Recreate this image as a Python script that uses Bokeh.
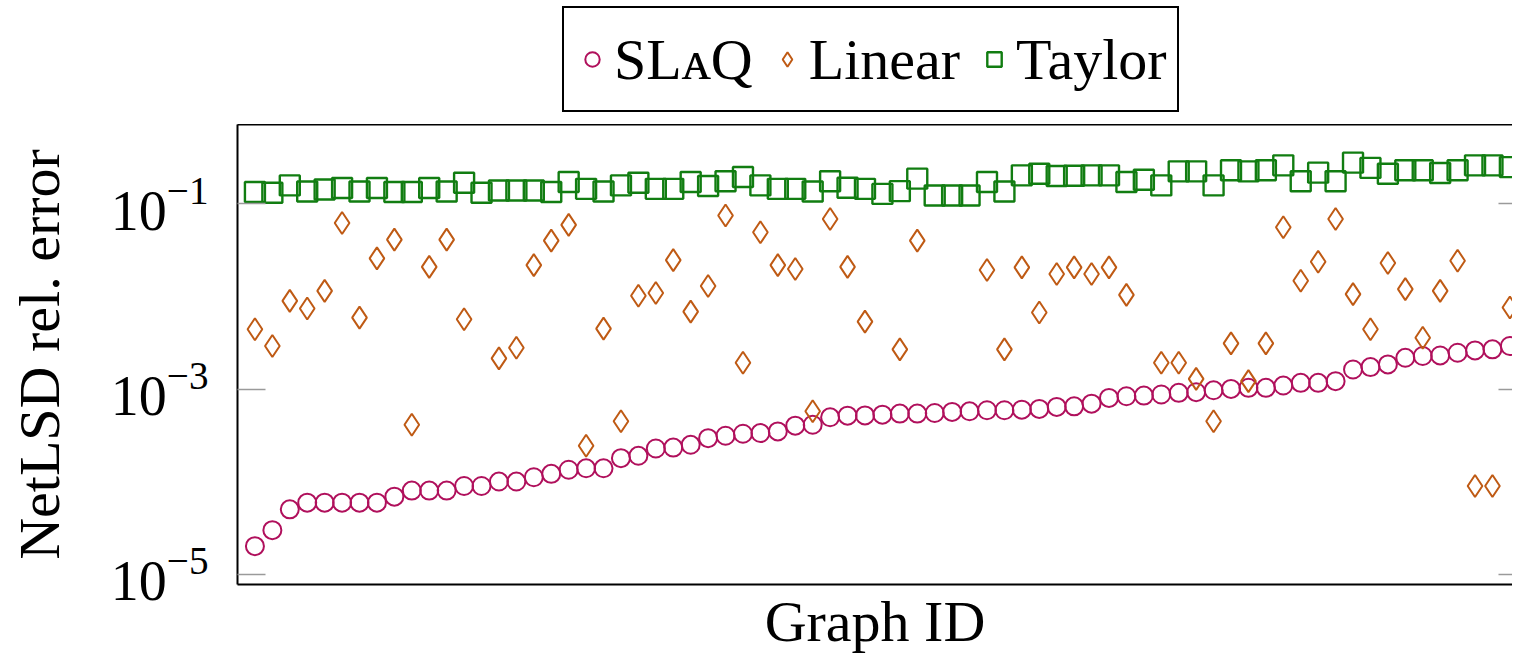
import numpy as np
from bokeh.plotting import figure
from bokeh.layouts import column
from bokeh.models import (Range1d, FixedTicker, LogAxis, LinearAxis, Legend, LegendItem)
from bokeh.embed import file_html
from bokeh.resources import INLINE

graph_ids = list(range(1, 74))

slaq = [2.02e-5, 3.01e-5, 5.05e-5, 5.96e-5, 5.96e-5, 5.96e-5, 5.96e-5, 5.96e-5,
        6.92e-5, 8.04e-5, 8.04e-5, 8.04e-5, 9.02e-5, 9.02e-5, 1.007e-4, 1.007e-4,
        1.12e-4, 1.22e-4, 1.35e-4, 1.40e-4, 1.40e-4, 1.80e-4, 1.91e-4, 2.29e-4,
        2.34e-4, 2.51e-4, 2.96e-4, 3.14e-4, 3.30e-4, 3.36e-4, 3.50e-4, 4.04e-4,
        4.13e-4, 4.97e-4, 5.18e-4, 5.21e-4, 5.31e-4, 5.45e-4, 5.45e-4, 5.53e-4,
        5.68e-4, 5.77e-4, 5.92e-4, 5.92e-4, 6.01e-4, 6.12e-4, 6.43e-4, 6.53e-4,
        6.98e-4, 8.04e-4, 8.38e-4, 8.53e-4, 8.75e-4, 9.12e-4, 9.27e-4, 9.72e-4,
        1.007e-3, 1.033e-3, 1.033e-3, 1.094e-3, 1.17e-3, 1.17e-3, 1.22e-3, 1.63e-3,
        1.73e-3, 1.85e-3, 2.18e-3, 2.28e-3, 2.31e-3, 2.47e-3, 2.62e-3, 2.69e-3,
        2.92e-3]

nan = float("nan")
linear = [4.43e-3, 2.92e-3, 8.97e-3, 7.41e-3, 1.15e-2, 6.22e-2, 5.92e-3, 2.58e-2,
          4.11e-2, 4.13e-4, 2.09e-2, 4.11e-2, 5.68e-3, nan, 2.15e-3, 2.80e-3,
          2.18e-2, 4.01e-2, 5.92e-2, 2.45e-4, 4.50e-3, 4.50e-4, 1.02e-2, 1.09e-2,
          2.47e-2, 6.87e-3, 1.30e-2, 7.48e-2, 1.93e-3, 4.93e-2, 2.18e-2, 1.98e-2,
          5.77e-4, 6.87e-2, 2.09e-2, 5.36e-3, nan, 2.69e-3, 4.01e-2, nan,
          nan, nan, 1.93e-2, 2.69e-3, 2.06e-2, 6.71e-3, 1.75e-2, 2.06e-2,
          1.75e-2, 2.06e-2, 1.04e-2, nan, 1.93e-3, 1.93e-3, 1.29e-3, 4.50e-4,
          3.12e-3, 1.22e-3, 3.12e-3, 5.58e-2, 1.48e-2, 2.37e-2, 6.87e-2, 1.06e-2,
          4.43e-3, 2.30e-2, 1.20e-2, 3.59e-3, 1.15e-2, 2.43e-2, 9.02e-5, 9.02e-5,
          7.60e-3]

taylor = [0.134, 0.1315, 0.158, 0.136, 0.143, 0.148, 0.136, 0.148,
          0.134, 0.134, 0.148, 0.136, 0.169, 0.1315, 0.139, 0.139,
          0.139, 0.134, 0.172, 0.145, 0.136, 0.158, 0.169, 0.145,
          0.145, 0.172, 0.156, 0.175, 0.195, 0.158, 0.145, 0.145,
          0.136, 0.175, 0.149, 0.145, 0.128, 0.137, 0.187, 0.123,
          0.123, 0.123, 0.172, 0.136, 0.203, 0.211, 0.200, 0.201,
          0.203, 0.203, 0.172, 0.182, 0.158, 0.224, 0.224, 0.158,
          0.230, 0.224, 0.230, 0.260, 0.175, 0.217, 0.175, 0.278,
          0.244, 0.211, 0.230, 0.230, 0.215, 0.230, 0.260, 0.260,
          0.249]

series_labels = ["SLᴀQ", "Linear", "Taylor"]
y_ticks = [1e-5, 1e-3, 1e-1]

FONT = "Liberation Serif"
C_SLAQ = "#b0105c"
C_LIN = "#bf5a14"
C_TAY = "#117d11"
STYLES = [dict(marker="circle", size=18, line_color=C_SLAQ, line_width=2),
          dict(marker="diamond", size=22, line_color=C_LIN, line_width=2),
          dict(marker="square", size=20, line_color=C_TAY, line_width=2.4)]
SERIES = [slaq, linear, taylor]

TOP_H = 124
LEFT = 237

# ---------------- main plot ----------------
p = figure(width=1512, height=658 - TOP_H, output_backend="svg", toolbar_location=None,
           y_axis_type="log",
           x_range=Range1d(0, 73.15), y_range=Range1d(10 ** -5.108, 10 ** -0.144),
           min_border_left=LEFT, min_border_right=0, min_border_top=0,
           min_border_bottom=74)
p.background_fill_color = "white"
p.border_fill_color = "white"
p.outline_line_color = None
p.xgrid.visible = False
p.ygrid.visible = False

for ys, st in zip(SERIES, STYLES):
    p.scatter(graph_ids, ys, fill_color=None, **st)

# y axis (left)
ya = p.left[0]
ya.ticker = FixedTicker(ticks=y_ticks, minor_ticks=[])
ya.axis_line_color = "black"
ya.axis_line_width = 2
ya.major_tick_in = 28
ya.major_tick_out = 0
ya.major_tick_line_color = "#9a9a9a"
ya.major_tick_line_width = 1.5
ya.minor_tick_line_color = None
ya.major_label_standoff = 29
ya.major_label_text_font = FONT
ya.major_label_text_font_size = "56px"
ya.major_label_text_color = "black"
ya.axis_label = "NetLSD rel. error"
ya.axis_label_text_font = FONT
ya.axis_label_text_font_size = "58px"
ya.axis_label_text_font_style = "normal"
ya.axis_label_text_color = "black"
ya.axis_label_standoff = 36

# x axis (below)
xa = p.below[0]
xa.ticker = FixedTicker(ticks=[])
xa.axis_line_color = "black"
xa.axis_line_width = 2
xa.major_tick_line_color = None
xa.minor_tick_line_color = None
xa.major_label_text_font_size = "1px"
xa.major_label_standoff = 0
xa.axis_label = "Graph ID"
xa.axis_label_text_font = FONT
xa.axis_label_text_font_size = "58px"
xa.axis_label_text_font_style = "normal"
xa.axis_label_text_color = "black"
xa.axis_label_standoff = 4

# right mirror ticks (the frame runs past the right edge)
ra = LogAxis(ticker=FixedTicker(ticks=y_ticks, minor_ticks=[]))
ra.axis_line_color = None
ra.major_tick_in = 14
ra.major_tick_out = 0
ra.major_tick_line_color = "#9a9a9a"
ra.major_tick_line_width = 1.5
ra.minor_tick_line_color = None
ra.major_label_text_font_size = "1px"
ra.major_label_text_color = None
ra.major_label_standoff = 0
p.add_layout(ra, "right")

# top border
ta = LinearAxis(ticker=FixedTicker(ticks=[]))
ta.axis_line_color = "black"
ta.axis_line_width = 2
ta.major_tick_line_color = None
ta.minor_tick_line_color = None
ta.major_label_text_font_size = "1px"
ta.major_label_text_color = None
ta.major_label_standoff = 0
p.add_layout(ta, "above")

# ---------------- legend strip ----------------
lg = figure(width=1512, height=TOP_H, output_backend="svg", toolbar_location=None,
            x_range=Range1d(-20, -10), y_range=Range1d(0, 1),
            x_axis_location=None, y_axis_location=None,
            min_border_left=LEFT, min_border_right=0, min_border_top=0,
            min_border_bottom=0)
lg.outline_line_color = None
lg.xgrid.visible = False
lg.ygrid.visible = False
items = []
for lab, ys, st in zip(series_labels, SERIES, STYLES):
    r = lg.scatter(graph_ids, ys, fill_color=None, **st)
    items.append(LegendItem(label=lab, renderers=[r]))

legend = Legend(items=items, orientation="horizontal",
                location=(562 - LEFT, TOP_H - 112), margin=0,
                padding=10, spacing=16, glyph_width=36, glyph_height=36,
                label_height=82, label_standoff=4,
                label_text_font=FONT, label_text_font_size="58px",
                label_text_color="black",
                border_line_color="black", border_line_width=2,
                border_line_alpha=1.0,
                background_fill_color="white", background_fill_alpha=1.0)
lg.add_layout(legend, "center")

layout = column(lg, p, spacing=0)
open("out.html", "w").write(file_html(layout, INLINE))
